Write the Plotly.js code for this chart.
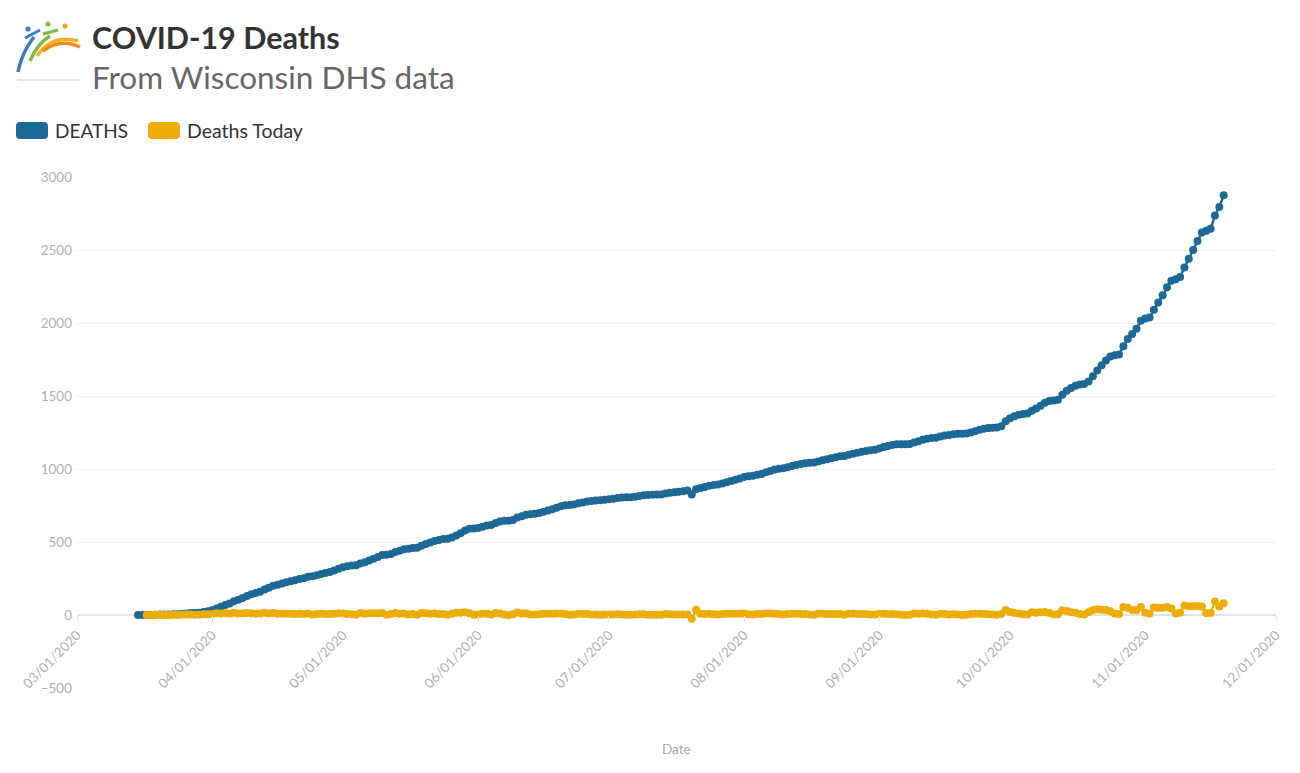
<!DOCTYPE html>
<html>
<head>
<meta charset="utf-8">
<script src="https://cdn.plot.ly/plotly-3.0.1.min.js"></script>
<style>
  html, body { margin: 0; padding: 0; background: #ffffff; }
  #chart { width: 1300px; height: 773px; }
</style>
</head>
<body>
<div id="chart"></div>
<script>
// ---------------- DATA ----------------
const deathsStart = '2020-03-15';
const todayStart = '2020-03-17';
const seriesNames = ['DEATHS', 'Deaths Today'];
const seriesColors = ['#1D6996', '#EDAD08'];

// Cumulative deaths, one value per day from 2020-03-15 to 2020-11-19
const deaths = [
  // Mar 15-31
  0,0,0,0,2,3,4,4,5,5,7,10,13,14,16,21,26,
  // Apr
  33,45,56,68,79,94,104,116,130,142,150,160,175,187,200,208,216,224,232,238,246,252,262,266,272,281,288,295,304,316,
  // May
  327,334,339,340,353,362,374,386,398,411,412,418,431,440,450,453,459,461,475,487,496,507,514,520,522,530,545,560,578,590,592,
  // Jun
  596,605,613,616,630,641,645,645,650,667,677,687,690,694,699,708,716,725,735,745,751,753,756,765,771,777,781,784,786,790,
  // Jul
  793,797,802,805,806,807,810,815,820,822,824,825,826,832,837,841,845,848,852,826,862,870,877,885,890,894,901,909,917,926,935,
  // Aug
  945,950,953,960,966,977,987,996,1002,1005,1012,1020,1028,1034,1040,1043,1044,1052,1060,1067,1073,1080,1087,1089,1097,1105,1112,1118,1124,1128,1132,
  // Sep
  1141,1150,1157,1164,1169,1170,1170,1172,1182,1190,1200,1208,1212,1214,1222,1229,1233,1238,1241,1241,1243,1250,1259,1268,1275,1280,1283,1285,1292,1327,
  // Oct
  1348,1361,1372,1377,1380,1399,1415,1433,1453,1466,1470,1475,1508,1536,1555,1571,1578,1582,1600,1635,1674,1710,1744,1770,1779,1785,1840,1890,1925,1960,2015,
  // Nov 1-19
  2030,2038,2090,2140,2190,2245,2290,2300,2315,2380,2440,2500,2562,2620,2632,2645,2737,2795,2875
];

// New deaths reported each day, from 2020-03-17 to 2020-11-19
const deathsToday = [
  // Mar 17-31
  0,0,2,1,1,0,1,0,2,3,3,1,2,5,5,
  // Apr
  7,12,11,12,11,15,10,12,14,12,8,10,15,12,13,8,8,8,8,6,8,6,10,4,6,9,7,7,9,12,
  // May
  11,7,5,1,13,9,12,12,12,13,1,6,13,9,10,3,6,2,14,12,9,11,7,6,2,8,15,15,18,12,2,
  // Jun
  4,9,8,3,14,11,4,0,5,17,10,10,3,4,5,9,8,9,10,10,6,2,3,9,6,6,4,3,2,4,
  // Jul
  3,4,5,3,1,1,3,5,5,2,2,1,1,6,5,4,4,3,4,-26,36,8,7,8,5,4,7,8,8,9,9,
  // Aug
  10,5,3,7,6,11,10,9,6,3,7,8,8,6,6,3,1,8,8,7,6,7,7,2,8,8,7,6,6,4,4,
  // Sep
  9,9,7,7,5,1,0,2,10,8,10,8,4,2,8,7,4,5,3,0,2,7,9,9,7,5,3,2,7,35,
  // Oct
  21,13,11,5,3,19,16,18,20,13,4,5,33,28,19,16,7,4,18,35,39,36,34,26,9,6,55,50,35,35,55,
  // Nov 1-19
  15,8,52,50,50,55,45,10,15,65,60,60,62,58,12,13,92,58,80
];

const yTicks = [-500, 0, 500, 1000, 1500, 2000, 2500, 3000];
const xTicks = ['2020-03-01','2020-04-01','2020-05-01','2020-06-01','2020-07-01',
                '2020-08-01','2020-09-01','2020-10-01','2020-11-01','2020-12-01'];
const xRange = ['2020-03-01', '2020-12-01'];
const yRange = [-500, 3000];

const titleText = 'COVID-19 Deaths';
const subtitleText = 'From Wisconsin DHS data';
const xTitleText = 'Date';

// ---------------- LAYOUT HELPERS ----------------
const W = 1300, H = 773;
const ML = 77, MR = 24, MT = 177, MB = 85;
const PW = W - ML - MR, PH = H - MT - MB;
const FONT = 'Lato, "Source Sans Pro", "Noto Sans", sans-serif';
function px(x) { return (x - ML) / PW; }
function py(y) { return (H - MB - y) / PH; }
function P(x, y) { return px(x).toFixed(5) + ',' + py(y).toFixed(5); }

function roundRect(x0, y0, x1, y1, r) {
  return 'M' + P(x0 + r, y0) + ' L' + P(x1 - r, y0) + ' Q' + P(x1, y0) + ' ' + P(x1, y0 + r) +
         ' L' + P(x1, y1 - r) + ' Q' + P(x1, y1) + ' ' + P(x1 - r, y1) +
         ' L' + P(x0 + r, y1) + ' Q' + P(x0, y1) + ' ' + P(x0, y1 - r) +
         ' L' + P(x0, y0 + r) + ' Q' + P(x0, y0) + ' ' + P(x0 + r, y0) + ' Z';
}
function circle(cx, cy, r, color) {
  return {type: 'circle', xref: 'paper', yref: 'paper',
          x0: px(cx - r), x1: px(cx + r), y0: py(cy + r), y1: py(cy - r),
          fillcolor: color, line: {width: 0}};
}
function stroke(d, color, w) {
  return {type: 'path', xref: 'paper', yref: 'paper', path: d,
          line: {color: color, width: w}};
}

// ---------------- TRACES ----------------
const traces = [
  {
    type: 'scatter', mode: 'lines+markers', name: seriesNames[0],
    x0: deathsStart, dx: 86400000, y: deaths,
    line: {color: seriesColors[0], width: 2.5},
    marker: {color: seriesColors[0], size: 8},
    cliponaxis: false, showlegend: false
  },
  {
    type: 'scatter', mode: 'lines+markers', name: seriesNames[1],
    x0: todayStart, dx: 86400000, y: deathsToday,
    line: {color: seriesColors[1], width: 2.5},
    marker: {color: seriesColors[1], size: 8},
    cliponaxis: false, showlegend: false
  }
];

// ---------------- SHAPES (legend swatches + logo) ----------------
const shapes = [
  {type: 'path', xref: 'paper', yref: 'paper', path: roundRect(16, 122, 48, 139, 4),
   fillcolor: seriesColors[0], line: {width: 0}},
  {type: 'path', xref: 'paper', yref: 'paper', path: roundRect(148, 122, 180, 139, 4),
   fillcolor: seriesColors[1], line: {width: 0}},
  stroke('M' + P(18, 72) + ' Q' + P(22, 52) + ' ' + P(34, 37), '#3b7dc4', 3.5),
  stroke('M' + P(25, 38) + ' L' + P(40, 30), '#3b7dc4', 3),
  circle(28, 29, 2.6, '#3b7dc4'),
  stroke('M' + P(30, 61) + ' Q' + P(37, 44) + ' ' + P(50, 36), '#7dbb42', 3.5),
  stroke('M' + P(43, 34) + ' L' + P(58, 30), '#7dbb42', 3),
  circle(48, 24, 2.6, '#7dbb42'),
  stroke('M' + P(37, 56) + ' Q' + P(52, 34) + ' ' + P(78, 41), '#f2b21b', 3.5),
  stroke('M' + P(43, 51) + ' Q' + P(60, 38) + ' ' + P(80, 47), '#ef8a1f', 3.5),
  circle(65, 26, 2.6, '#f2a21b'),
  stroke('M' + P(17, 80) + ' L' + P(80, 80), '#e3e3e3', 2)
];

// ---------------- ANNOTATIONS ----------------
const annotations = [
  {xref: 'paper', yref: 'paper', x: px(90), y: py(37), xanchor: 'left', yanchor: 'middle',
   text: '<b>' + titleText + '</b>', showarrow: false,
   font: {family: FONT, size: 30.5, color: '#333333'}},
  {xref: 'paper', yref: 'paper', x: px(90), y: py(77), xanchor: 'left', yanchor: 'middle',
   text: subtitleText, showarrow: false,
   font: {family: FONT, size: 31.5, color: '#666666'}},
  {xref: 'paper', yref: 'paper', x: px(53), y: py(131), xanchor: 'left', yanchor: 'middle',
   text: seriesNames[0], showarrow: false,
   font: {family: FONT, size: 19, color: '#333333'}},
  {xref: 'paper', yref: 'paper', x: px(185), y: py(131), xanchor: 'left', yanchor: 'middle',
   text: seriesNames[1], showarrow: false,
   font: {family: FONT, size: 19.5, color: '#333333'}},
  {xref: 'paper', yref: 'paper', x: px(676), y: py(749), xanchor: 'center', yanchor: 'middle',
   text: xTitleText, showarrow: false,
   font: {family: FONT, size: 13.5, color: '#aaaaaa'}}
];

const layout = {
  width: W, height: H,
  margin: {l: ML, r: MR, t: MT, b: MB, pad: 0},
  paper_bgcolor: '#ffffff', plot_bgcolor: '#ffffff',
  font: {family: FONT, color: '#333333'},
  showlegend: false,
  hovermode: false,
  xaxis: {
    type: 'date', range: xRange,
    tickvals: xTicks, tickformat: '%m/%d/%Y', tickangle: -45,
    tickfont: {family: FONT, size: 13.5, color: '#b0b0b0'},
    ticks: 'outside', ticklen: 6, tickcolor: '#e6e6e6', tickwidth: 1,
    showgrid: false, zeroline: false, showline: false,
    anchor: 'free', position: (0 - yRange[0]) / (yRange[1] - yRange[0])
  },
  yaxis: {
    range: yRange, tickvals: yTicks,
    tickfont: {family: FONT, size: 13.5, color: '#b0b0b0'},
    showgrid: true, gridcolor: '#efefef', gridwidth: 1,
    zeroline: true, zerolinecolor: '#e4e4e4', zerolinewidth: 1.5,
    showline: false, ticks: '', ticklabelstandoff: 4
  },
  shapes: shapes,
  annotations: annotations
};

Plotly.newPlot('chart', traces, layout, {staticPlot: true, displayModeBar: false});
</script>
</body>
</html>
